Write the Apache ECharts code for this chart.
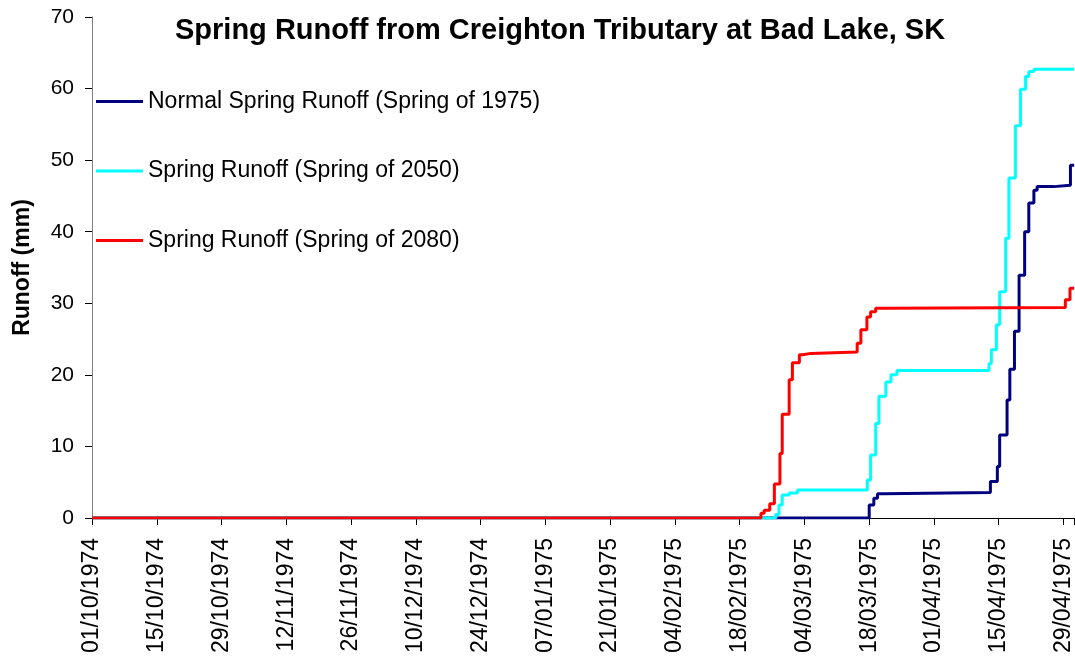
<!DOCTYPE html>
<html>
<head>
<meta charset="utf-8">
<script src="https://cdn.jsdelivr.net/npm/echarts@6/dist/echarts.min.js"></script>
<style>
  html, body { margin: 0; padding: 0; background: #fff; }
  #chart { width: 1075px; height: 658px; }
</style>
</head>
<body>
<div id="chart"></div>
<script>
// days counted from 01/10/1974, runoff in mm (cumulative, step after each day)
var navyDays = [0, 168.0, 169.0, 169.8, 171.2, 194.2, 195.7, 196.2, 197.8, 198.4, 199.4, 200.4, 201.6, 202.5, 203.6, 204.3, 207.9, 211.5, 212.3];
var navyVals = [0, 1.8, 2.75, 3.4, 3.55, 5.1, 7.2, 11.6, 16.5, 20.8, 26.1, 33.9, 40, 44, 45.8, 46.3, 46.5, 49.3, 49.3];

var cyanDays = [0, 147.8, 148.5, 149.2, 150.7, 152.5, 167.6, 168.3, 169.4, 170.1, 171.6, 172.7, 174.0, 193.9, 194.4, 195.5, 196.2, 197.5, 198.2, 199.6, 200.7, 201.8, 202.5, 203.6, 212.3];
var cyanVals = [0, 0.5, 1.8, 3.2, 3.5, 3.9, 5.3, 8.8, 13.2, 17, 19, 20, 20.6, 21.6, 23.5, 27, 31.6, 39.1, 47.5, 54.8, 59.9, 61.7, 62.4, 62.7, 62.7];

var redDays = [0, 144.6, 145.3, 146.5, 147.5, 148.7, 149.2, 150.7, 151.4, 152.9, 153.6, 155.4, 165.4, 166.2, 167.5, 168.3, 169.4, 171.6, 210.4, 211.4, 212.3];
var redVals = [0, 0.65, 1.1, 2.0, 4.75, 9.0, 14.5, 19.3, 21.7, 22.8, 23.0, 23.2, 24.4, 26.3, 28.1, 28.8, 29.3, 29.4, 30.5, 32.1, 32.1];

var seriesNames = ['Normal Spring Runoff (Spring of 1975)', 'Spring Runoff (Spring of 2050)', 'Spring Runoff (Spring of 2080)'];

function pairs(d, v) {
    var out = [];
    for (var i = 0; i < d.length; i++) out.push([d[i], v[i]]);
    return out;
}
function pad(n) { return (n < 10 ? '0' : '') + n; }
var base = Date.UTC(1974, 9, 1);
function dayLabel(v) {
    if (Math.abs(v % 14) > 1e-6) return '';
    var d = new Date(base + v * 86400000);
    return pad(d.getUTCDate()) + '/' + pad(d.getUTCMonth() + 1) + '/' + d.getUTCFullYear();
}

var myChart = echarts.init(document.getElementById('chart'));
var font = '"Liberation Sans", Arial, sans-serif';

myChart.setOption({
    animation: false,
    backgroundColor: '#fff',
    textStyle: { fontFamily: font },
    title: {
        text: 'Spring Runoff from Creighton Tributary at Bad Lake, SK',
        left: 170,
        top: 11,
        textStyle: { fontFamily: font, fontSize: 29, fontWeight: 'bold', color: '#000' }
    },
    legend: {
        orient: 'vertical',
        left: 91,
        top: 85,
        itemWidth: 47,
        itemHeight: 3,
        itemGap: 46.5,
        icon: 'rect',
        textStyle: { fontFamily: font, fontSize: 23, color: '#000' },
        data: seriesNames
    },
    grid: { left: 92, right: 0, top: 17, bottom: 140 },
    xAxis: {
        type: 'value',
        min: 0,
        max: 212.3,
        interval: 14,
        axisLine: { lineStyle: { color: '#000', width: 1 } },
        axisTick: { length: 7, lineStyle: { color: '#000' } },
        splitLine: { show: false },
        axisLabel: {
            rotate: 90,
            margin: 20,
            fontFamily: font,
            fontSize: 23,
            color: '#000',
            formatter: dayLabel
        }
    },
    yAxis: {
        type: 'value',
        min: 0,
        max: 70,
        interval: 10,
        name: 'Runoff (mm)',
        nameLocation: 'middle',
        nameGap: 58,
        nameTextStyle: { fontFamily: font, fontSize: 23, fontWeight: 'bold', color: '#000' },
        axisLine: { show: true, lineStyle: { color: '#808080', width: 1 } },
        axisTick: { show: true, length: 7, lineStyle: { color: '#000' } },
        splitLine: { show: false },
        axisLabel: { margin: 18, fontFamily: font, fontSize: 21, color: '#000' }
    },
    series: [
        {
            name: seriesNames[0], type: 'line', step: 'end', symbol: 'none',
            color: '#000080', lineStyle: { width: 3, color: '#000080' },
            data: pairs(navyDays, navyVals)
        },
        {
            name: seriesNames[1], type: 'line', step: 'end', symbol: 'none',
            color: '#00FFFF', lineStyle: { width: 3, color: '#00FFFF' },
            data: pairs(cyanDays, cyanVals)
        },
        {
            name: seriesNames[2], type: 'line', step: 'end', symbol: 'none',
            color: '#FF0000', lineStyle: { width: 3, color: '#FF0000' },
            data: pairs(redDays, redVals)
        }
    ]
});
</script>
</body>
</html>
